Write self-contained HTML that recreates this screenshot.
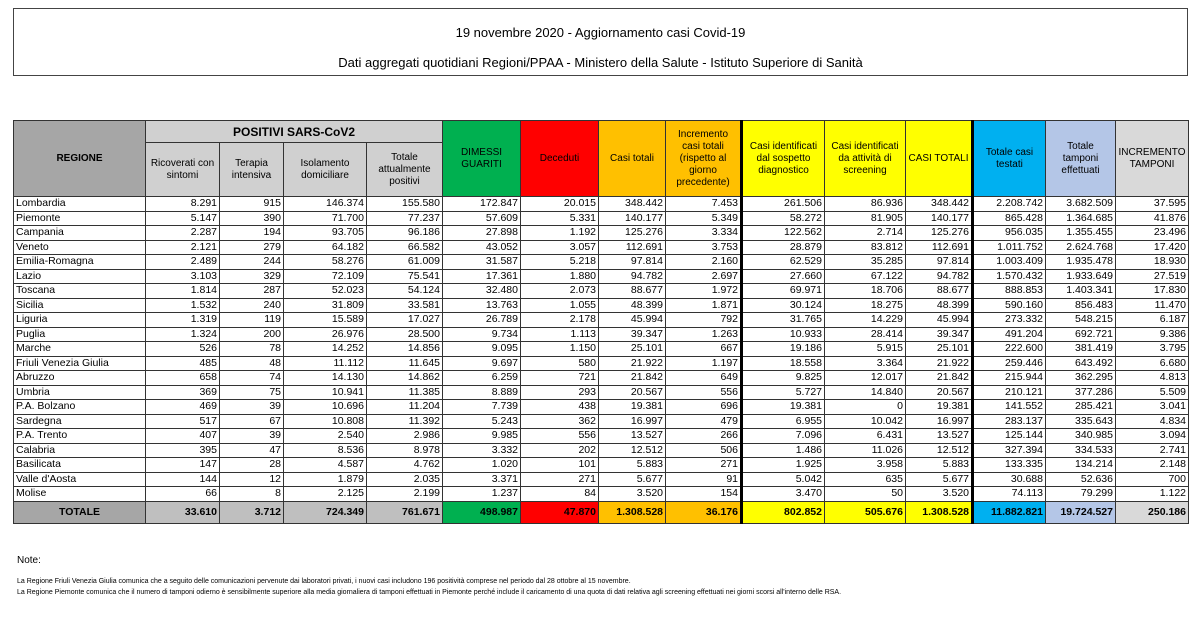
<!DOCTYPE html>
<html><head><meta charset="utf-8"><style>
body{margin:0;width:1200px;height:622px;background:#fff;font-family:"Liberation Sans",sans-serif;position:relative;overflow:hidden;color:#000}
.title{position:absolute;left:13px;top:8px;width:1173px;height:66px;border:1px solid #444;text-align:center;font-size:13px}
.title div{position:absolute;left:0;right:0}
table{position:absolute;left:13px;top:120px;border-collapse:collapse;table-layout:fixed;font-size:10.5px}
td{border:1px solid #333;padding:0 2px;height:13.5px;line-height:13px;text-align:right;white-space:nowrap;overflow:hidden}
td.r{text-align:left}
thead td{text-align:center;white-space:normal;line-height:12px;font-size:10px;background:#d0d0d0}
.g{background:#00b050!important}.rd{background:#ff0000!important}.o{background:#ffc000!important}.y{background:#ffff00!important}.b{background:#00b0f0!important}.lb{background:#b4c6e7!important}.lg{background:#d9d9d9!important}
.tk{border-left:3px solid #000}
tr.tot td{background:#bfbfbf;height:21px;font-weight:bold}
.notes{position:absolute;left:17px;font-size:7px}
</style></head><body>
<div class="title"><div style="top:16px">19 novembre 2020 - Aggiornamento casi Covid-19</div><div style="top:46px">Dati aggregati quotidiani Regioni/PPAA - Ministero della Salute - Istituto Superiore di Sanità</div></div>
<table>
<colgroup><col style="width:132px"><col style="width:74px"><col style="width:64px"><col style="width:83px"><col style="width:76px"><col style="width:78px"><col style="width:78px"><col style="width:67px"><col style="width:76px"><col style="width:83px"><col style="width:81px"><col style="width:67px"><col style="width:73px"><col style="width:70px"><col style="width:73px"></colgroup>
<thead>
<tr><td rowspan="2" style="background:#a6a6a6;font-weight:bold;height:75px">REGIONE</td><td colspan="4" style="font-weight:bold;font-size:12px;height:21px">POSITIVI SARS-CoV2</td><td rowspan="2" class="g">DIMESSI<br>GUARITI</td><td rowspan="2" class="rd">Deceduti</td><td rowspan="2" class="o">Casi totali</td><td rowspan="2" class="o">Incremento casi totali (rispetto al giorno precedente)</td><td rowspan="2" class="y tk">Casi identificati dal sospetto diagnostico</td><td rowspan="2" class="y">Casi identificati da attività di screening</td><td rowspan="2" class="y">CASI TOTALI</td><td rowspan="2" class="b tk">Totale casi testati</td><td rowspan="2" class="lb">Totale tamponi effettuati</td><td rowspan="2" class="lg">INCREMENTO TAMPONI</td></tr>
<tr><td style="height:53px">Ricoverati con sintomi</td><td>Terapia intensiva</td><td>Isolamento domiciliare</td><td>Totale attualmente positivi</td></tr>
</thead>
<tbody>
<tr><td class="r">Lombardia</td><td>8.291</td><td>915</td><td>146.374</td><td>155.580</td><td>172.847</td><td>20.015</td><td>348.442</td><td>7.453</td><td class="tk">261.506</td><td>86.936</td><td>348.442</td><td class="tk">2.208.742</td><td>3.682.509</td><td>37.595</td></tr>
<tr><td class="r">Piemonte</td><td>5.147</td><td>390</td><td>71.700</td><td>77.237</td><td>57.609</td><td>5.331</td><td>140.177</td><td>5.349</td><td class="tk">58.272</td><td>81.905</td><td>140.177</td><td class="tk">865.428</td><td>1.364.685</td><td>41.876</td></tr>
<tr><td class="r">Campania</td><td>2.287</td><td>194</td><td>93.705</td><td>96.186</td><td>27.898</td><td>1.192</td><td>125.276</td><td>3.334</td><td class="tk">122.562</td><td>2.714</td><td>125.276</td><td class="tk">956.035</td><td>1.355.455</td><td>23.496</td></tr>
<tr><td class="r">Veneto</td><td>2.121</td><td>279</td><td>64.182</td><td>66.582</td><td>43.052</td><td>3.057</td><td>112.691</td><td>3.753</td><td class="tk">28.879</td><td>83.812</td><td>112.691</td><td class="tk">1.011.752</td><td>2.624.768</td><td>17.420</td></tr>
<tr><td class="r">Emilia-Romagna</td><td>2.489</td><td>244</td><td>58.276</td><td>61.009</td><td>31.587</td><td>5.218</td><td>97.814</td><td>2.160</td><td class="tk">62.529</td><td>35.285</td><td>97.814</td><td class="tk">1.003.409</td><td>1.935.478</td><td>18.930</td></tr>
<tr><td class="r">Lazio</td><td>3.103</td><td>329</td><td>72.109</td><td>75.541</td><td>17.361</td><td>1.880</td><td>94.782</td><td>2.697</td><td class="tk">27.660</td><td>67.122</td><td>94.782</td><td class="tk">1.570.432</td><td>1.933.649</td><td>27.519</td></tr>
<tr><td class="r">Toscana</td><td>1.814</td><td>287</td><td>52.023</td><td>54.124</td><td>32.480</td><td>2.073</td><td>88.677</td><td>1.972</td><td class="tk">69.971</td><td>18.706</td><td>88.677</td><td class="tk">888.853</td><td>1.403.341</td><td>17.830</td></tr>
<tr><td class="r">Sicilia</td><td>1.532</td><td>240</td><td>31.809</td><td>33.581</td><td>13.763</td><td>1.055</td><td>48.399</td><td>1.871</td><td class="tk">30.124</td><td>18.275</td><td>48.399</td><td class="tk">590.160</td><td>856.483</td><td>11.470</td></tr>
<tr><td class="r">Liguria</td><td>1.319</td><td>119</td><td>15.589</td><td>17.027</td><td>26.789</td><td>2.178</td><td>45.994</td><td>792</td><td class="tk">31.765</td><td>14.229</td><td>45.994</td><td class="tk">273.332</td><td>548.215</td><td>6.187</td></tr>
<tr><td class="r">Puglia</td><td>1.324</td><td>200</td><td>26.976</td><td>28.500</td><td>9.734</td><td>1.113</td><td>39.347</td><td>1.263</td><td class="tk">10.933</td><td>28.414</td><td>39.347</td><td class="tk">491.204</td><td>692.721</td><td>9.386</td></tr>
<tr><td class="r">Marche</td><td>526</td><td>78</td><td>14.252</td><td>14.856</td><td>9.095</td><td>1.150</td><td>25.101</td><td>667</td><td class="tk">19.186</td><td>5.915</td><td>25.101</td><td class="tk">222.600</td><td>381.419</td><td>3.795</td></tr>
<tr><td class="r">Friuli Venezia Giulia</td><td>485</td><td>48</td><td>11.112</td><td>11.645</td><td>9.697</td><td>580</td><td>21.922</td><td>1.197</td><td class="tk">18.558</td><td>3.364</td><td>21.922</td><td class="tk">259.446</td><td>643.492</td><td>6.680</td></tr>
<tr><td class="r">Abruzzo</td><td>658</td><td>74</td><td>14.130</td><td>14.862</td><td>6.259</td><td>721</td><td>21.842</td><td>649</td><td class="tk">9.825</td><td>12.017</td><td>21.842</td><td class="tk">215.944</td><td>362.295</td><td>4.813</td></tr>
<tr><td class="r">Umbria</td><td>369</td><td>75</td><td>10.941</td><td>11.385</td><td>8.889</td><td>293</td><td>20.567</td><td>556</td><td class="tk">5.727</td><td>14.840</td><td>20.567</td><td class="tk">210.121</td><td>377.286</td><td>5.509</td></tr>
<tr><td class="r">P.A. Bolzano</td><td>469</td><td>39</td><td>10.696</td><td>11.204</td><td>7.739</td><td>438</td><td>19.381</td><td>696</td><td class="tk">19.381</td><td>0</td><td>19.381</td><td class="tk">141.552</td><td>285.421</td><td>3.041</td></tr>
<tr><td class="r">Sardegna</td><td>517</td><td>67</td><td>10.808</td><td>11.392</td><td>5.243</td><td>362</td><td>16.997</td><td>479</td><td class="tk">6.955</td><td>10.042</td><td>16.997</td><td class="tk">283.137</td><td>335.643</td><td>4.834</td></tr>
<tr><td class="r">P.A. Trento</td><td>407</td><td>39</td><td>2.540</td><td>2.986</td><td>9.985</td><td>556</td><td>13.527</td><td>266</td><td class="tk">7.096</td><td>6.431</td><td>13.527</td><td class="tk">125.144</td><td>340.985</td><td>3.094</td></tr>
<tr><td class="r">Calabria</td><td>395</td><td>47</td><td>8.536</td><td>8.978</td><td>3.332</td><td>202</td><td>12.512</td><td>506</td><td class="tk">1.486</td><td>11.026</td><td>12.512</td><td class="tk">327.394</td><td>334.533</td><td>2.741</td></tr>
<tr><td class="r">Basilicata</td><td>147</td><td>28</td><td>4.587</td><td>4.762</td><td>1.020</td><td>101</td><td>5.883</td><td>271</td><td class="tk">1.925</td><td>3.958</td><td>5.883</td><td class="tk">133.335</td><td>134.214</td><td>2.148</td></tr>
<tr><td class="r">Valle d'Aosta</td><td>144</td><td>12</td><td>1.879</td><td>2.035</td><td>3.371</td><td>271</td><td>5.677</td><td>91</td><td class="tk">5.042</td><td>635</td><td>5.677</td><td class="tk">30.688</td><td>52.636</td><td>700</td></tr>
<tr><td class="r">Molise</td><td>66</td><td>8</td><td>2.125</td><td>2.199</td><td>1.237</td><td>84</td><td>3.520</td><td>154</td><td class="tk">3.470</td><td>50</td><td>3.520</td><td class="tk">74.113</td><td>79.299</td><td>1.122</td></tr>
<tr class="tot"><td style="text-align:center;background:#a6a6a6">TOTALE</td><td>33.610</td><td>3.712</td><td>724.349</td><td>761.671</td><td class="g">498.987</td><td class="rd">47.870</td><td class="o">1.308.528</td><td class="o">36.176</td><td class="y tk">802.852</td><td class="y">505.676</td><td class="y">1.308.528</td><td class="b tk">11.882.821</td><td class="lb">19.724.527</td><td class="lg">250.186</td></tr>
</tbody></table>
<div class="notes" style="top:555px;font-size:10px">Note:</div>
<div class="notes" style="top:578px">La Regione Friuli Venezia Giulia comunica che a seguito delle comunicazioni pervenute dai laboratori privati, i nuovi casi includono 196 positività comprese nel periodo dal 28 ottobre al 15 novembre.</div>
<div class="notes" style="top:589px">La Regione Piemonte comunica che il numero di tamponi odierno è sensibilmente superiore alla media giornaliera di tamponi effettuati in Piemonte perché include il caricamento di una quota di dati relativa agli screening effettuati nei giorni scorsi all'interno delle RSA.</div>
</body></html>
